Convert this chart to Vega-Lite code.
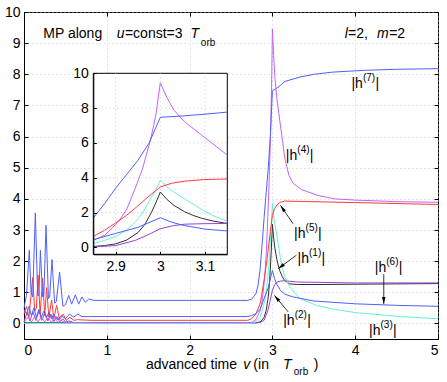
{
"$schema": "https://vega.github.io/schema/vega-lite/v6.json",
"width": 414, "height": 327,
"autosize": "none",
"padding": {"left": 24, "top": 12, "right": 9, "bottom": 43},
"background": "white",
"config": {
  "font": "Liberation Sans",
  "view": {"stroke": "black", "strokeWidth": 1},
  "axis": {"domainColor": "black", "domainWidth": 1, "tickColor": "black", "tickSize": -4, "labelPadding": 8, "labelFontSize": 14, "labelColor": "black", "labelFont": "Liberation Sans", "labelOverlap": false, "gridColor": "#bdbdbd", "gridDash": [1, 3], "gridWidth": 0.8, "titleFontSize": 14},
  "text": {"font": "Liberation Sans", "fontSize": 14, "align": "left", "baseline": "alphabetic", "color": "black"}
},
"datasets": {
  "curves": [
    {"s":"h1","x":0,"y":0.02},{"s":"h1","x":1,"y":0.02},{"s":"h1","x":2,"y":0.02},{"s":"h1","x":2.8,"y":0.02},{"s":"h1","x":2.85,"y":0.05},{"s":"h1","x":2.875,"y":0.1},{"s":"h1","x":2.9,"y":0.2},{"s":"h1","x":2.925,"y":0.42},{"s":"h1","x":2.95,"y":0.85},{"s":"h1","x":2.965,"y":1.3},{"s":"h1","x":2.98,"y":2.0},{"s":"h1","x":2.99,"y":2.55},{"s":"h1","x":3.0,"y":3.18},{"s":"h1","x":3.015,"y":2.75},{"s":"h1","x":3.03,"y":2.42},{"s":"h1","x":3.054,"y":2.05},{"s":"h1","x":3.075,"y":1.82},{"s":"h1","x":3.094,"y":1.66},{"s":"h1","x":3.12,"y":1.5},{"s":"h1","x":3.15,"y":1.37},{"s":"h1","x":3.21,"y":1.27},{"s":"h1","x":3.3,"y":1.25},{"s":"h1","x":3.6,"y":1.25},{"s":"h1","x":4,"y":1.26},{"s":"h1","x":4.5,"y":1.27},{"s":"h1","x":5,"y":1.28},
    {"s":"h2","x":0,"y":0.05},{"s":"h2","x":0.036,"y":0.35},{"s":"h2","x":0.072,"y":0.08},{"s":"h2","x":0.108,"y":0.38},{"s":"h2","x":0.144,"y":0.1},{"s":"h2","x":0.18,"y":0.4},{"s":"h2","x":0.216,"y":0.1},{"s":"h2","x":0.252,"y":0.35},{"s":"h2","x":0.288,"y":0.08},{"s":"h2","x":0.324,"y":0.3},{"s":"h2","x":0.36,"y":0.06},{"s":"h2","x":0.396,"y":0.22},{"s":"h2","x":0.432,"y":0.05},{"s":"h2","x":0.468,"y":0.15},{"s":"h2","x":0.504,"y":0.04},{"s":"h2","x":0.54,"y":0.08},{"s":"h2","x":0.6,"y":0.03},{"s":"h2","x":1,"y":0.02},{"s":"h2","x":2.8,"y":0.02},{"s":"h2","x":2.85,"y":0.03},{"s":"h2","x":2.9,"y":0.1},{"s":"h2","x":2.944,"y":0.4},{"s":"h2","x":2.975,"y":0.75},{"s":"h2","x":3.0,"y":1.07},{"s":"h2","x":3.03,"y":1.25},{"s":"h2","x":3.054,"y":1.33},{"s":"h2","x":3.1,"y":1.36},{"s":"h2","x":3.15,"y":1.37},{"s":"h2","x":3.3,"y":1.33},{"s":"h2","x":4,"y":1.3},{"s":"h2","x":5,"y":1.3},
    {"s":"h3","x":0,"y":0},{"s":"h3","x":1,"y":0},{"s":"h3","x":2,"y":0},{"s":"h3","x":2.75,"y":0.01},{"s":"h3","x":2.8,"y":0.05},{"s":"h3","x":2.85,"y":0.2},{"s":"h3","x":2.875,"y":0.4},{"s":"h3","x":2.906,"y":0.7},{"s":"h3","x":2.925,"y":1.0},{"s":"h3","x":2.944,"y":1.45},{"s":"h3","x":2.96,"y":1.95},{"s":"h3","x":2.974,"y":2.6},{"s":"h3","x":2.988,"y":3.2},{"s":"h3","x":3.0,"y":3.86},{"s":"h3","x":3.02,"y":3.35},{"s":"h3","x":3.054,"y":2.8},{"s":"h3","x":3.094,"y":2.15},{"s":"h3","x":3.12,"y":1.8},{"s":"h3","x":3.15,"y":1.5},{"s":"h3","x":3.21,"y":1.17},{"s":"h3","x":3.33,"y":0.8},{"s":"h3","x":3.53,"y":0.58},{"s":"h3","x":3.75,"y":0.45},{"s":"h3","x":4,"y":0.35},{"s":"h3","x":4.5,"y":0.23},{"s":"h3","x":5,"y":0.15},
    {"s":"h4","x":0,"y":0.05},{"s":"h4","x":0.05,"y":0.2},{"s":"h4","x":0.09,"y":0.05},{"s":"h4","x":0.13,"y":0.22},{"s":"h4","x":0.17,"y":0.05},{"s":"h4","x":0.21,"y":0.2},{"s":"h4","x":0.25,"y":0.05},{"s":"h4","x":0.29,"y":0.18},{"s":"h4","x":0.33,"y":0.04},{"s":"h4","x":0.37,"y":0.15},{"s":"h4","x":0.41,"y":0.03},{"s":"h4","x":0.45,"y":0.1},{"s":"h4","x":0.5,"y":0.02},{"s":"h4","x":0.6,"y":0.03},{"s":"h4","x":1,"y":0.02},{"s":"h4","x":2.75,"y":0.03},{"s":"h4","x":2.8,"y":0.12},{"s":"h4","x":2.85,"y":0.4},{"s":"h4","x":2.876,"y":0.7},{"s":"h4","x":2.906,"y":1.46},{"s":"h4","x":2.925,"y":2.2},{"s":"h4","x":2.944,"y":3.4},{"s":"h4","x":2.96,"y":4.5},{"s":"h4","x":2.978,"y":6.16},{"s":"h4","x":2.99,"y":7.6},{"s":"h4","x":3.0,"y":9.45},{"s":"h4","x":3.015,"y":8.6},{"s":"h4","x":3.03,"y":7.9},{"s":"h4","x":3.054,"y":7.22},{"s":"h4","x":3.094,"y":6.42},{"s":"h4","x":3.125,"y":5.8},{"s":"h4","x":3.15,"y":5.3},{"s":"h4","x":3.2,"y":4.75},{"s":"h4","x":3.25,"y":4.5},{"s":"h4","x":3.35,"y":4.3},{"s":"h4","x":3.55,"y":4.11},{"s":"h4","x":3.75,"y":4.0},{"s":"h4","x":4,"y":3.96},{"s":"h4","x":4.5,"y":3.91},{"s":"h4","x":5,"y":3.89},
    {"s":"h5","x":0,"y":0.3},{"s":"h5","x":0.03,"y":0.55},{"s":"h5","x":0.06,"y":0.2},{"s":"h5","x":0.085,"y":0.9},{"s":"h5","x":0.105,"y":1.47},{"s":"h5","x":0.13,"y":0.4},{"s":"h5","x":0.15,"y":0.5},{"s":"h5","x":0.17,"y":1.55},{"s":"h5","x":0.195,"y":0.3},{"s":"h5","x":0.225,"y":1.45},{"s":"h5","x":0.25,"y":0.25},{"s":"h5","x":0.273,"y":1.15},{"s":"h5","x":0.3,"y":0.2},{"s":"h5","x":0.334,"y":0.75},{"s":"h5","x":0.36,"y":0.15},{"s":"h5","x":0.394,"y":0.58},{"s":"h5","x":0.43,"y":0.12},{"s":"h5","x":0.474,"y":0.3},{"s":"h5","x":0.51,"y":0.1},{"s":"h5","x":0.555,"y":0.2},{"s":"h5","x":0.6,"y":0.1},{"s":"h5","x":0.65,"y":0.12},{"s":"h5","x":0.8,"y":0.1},{"s":"h5","x":2.7,"y":0.1},{"s":"h5","x":2.75,"y":0.15},{"s":"h5","x":2.8,"y":0.3},{"s":"h5","x":2.85,"y":0.62},{"s":"h5","x":2.875,"y":0.98},{"s":"h5","x":2.9,"y":1.4},{"s":"h5","x":2.925,"y":1.85},{"s":"h5","x":2.946,"y":2.3},{"s":"h5","x":2.975,"y":2.95},{"s":"h5","x":3.0,"y":3.47},{"s":"h5","x":3.025,"y":3.68},{"s":"h5","x":3.054,"y":3.8},{"s":"h5","x":3.094,"y":3.89},{"s":"h5","x":3.15,"y":3.93},{"s":"h5","x":3.3,"y":3.92},{"s":"h5","x":4,"y":3.88},{"s":"h5","x":5,"y":3.82},
    {"s":"h6","x":0,"y":0.45},{"s":"h6","x":0.03,"y":0.3},{"s":"h6","x":0.06,"y":0.55},{"s":"h6","x":0.09,"y":0.25},{"s":"h6","x":0.12,"y":0.5},{"s":"h6","x":0.15,"y":0.2},{"s":"h6","x":0.18,"y":0.45},{"s":"h6","x":0.21,"y":0.2},{"s":"h6","x":0.24,"y":0.4},{"s":"h6","x":0.27,"y":0.18},{"s":"h6","x":0.3,"y":0.35},{"s":"h6","x":0.33,"y":0.15},{"s":"h6","x":0.36,"y":0.3},{"s":"h6","x":0.4,"y":0.12},{"s":"h6","x":0.45,"y":0.25},{"s":"h6","x":0.5,"y":0.15},{"s":"h6","x":0.55,"y":0.3},{"s":"h6","x":0.6,"y":0.2},{"s":"h6","x":0.65,"y":0.3},{"s":"h6","x":0.7,"y":0.22},{"s":"h6","x":0.8,"y":0.22},{"s":"h6","x":2.7,"y":0.22},{"s":"h6","x":2.75,"y":0.25},{"s":"h6","x":2.8,"y":0.32},{"s":"h6","x":2.85,"y":0.44},{"s":"h6","x":2.9,"y":0.8},{"s":"h6","x":2.95,"y":1.15},{"s":"h6","x":3.0,"y":1.7},{"s":"h6","x":3.025,"y":1.45},{"s":"h6","x":3.05,"y":1.27},{"s":"h6","x":3.1,"y":1.05},{"s":"h6","x":3.15,"y":0.94},{"s":"h6","x":3.25,"y":0.85},{"s":"h6","x":3.5,"y":0.72},{"s":"h6","x":4,"y":0.63},{"s":"h6","x":4.5,"y":0.58},{"s":"h6","x":5,"y":0.55},
    {"s":"h7","x":0,"y":0.5},{"s":"h7","x":0.03,"y":0.9},{"s":"h7","x":0.064,"y":2.35},{"s":"h7","x":0.085,"y":1.0},{"s":"h7","x":0.105,"y":0.85},{"s":"h7","x":0.137,"y":3.55},{"s":"h7","x":0.165,"y":0.9},{"s":"h7","x":0.18,"y":0.9},{"s":"h7","x":0.198,"y":2.35},{"s":"h7","x":0.225,"y":0.85},{"s":"h7","x":0.24,"y":0.9},{"s":"h7","x":0.266,"y":3.15},{"s":"h7","x":0.295,"y":0.8},{"s":"h7","x":0.31,"y":0.85},{"s":"h7","x":0.338,"y":2.05},{"s":"h7","x":0.37,"y":0.65},{"s":"h7","x":0.39,"y":0.7},{"s":"h7","x":0.43,"y":1.65},{"s":"h7","x":0.47,"y":0.55},{"s":"h7","x":0.5,"y":0.6},{"s":"h7","x":0.54,"y":0.9},{"s":"h7","x":0.575,"y":0.62},{"s":"h7","x":0.62,"y":0.92},{"s":"h7","x":0.66,"y":0.62},{"s":"h7","x":0.7,"y":0.85},{"s":"h7","x":0.74,"y":0.68},{"s":"h7","x":0.78,"y":0.78},{"s":"h7","x":0.85,"y":0.74},{"s":"h7","x":1,"y":0.74},{"s":"h7","x":2,"y":0.74},{"s":"h7","x":2.7,"y":0.74},{"s":"h7","x":2.75,"y":0.78},{"s":"h7","x":2.8,"y":0.95},{"s":"h7","x":2.825,"y":1.2},{"s":"h7","x":2.85,"y":1.69},{"s":"h7","x":2.875,"y":2.5},{"s":"h7","x":2.9,"y":3.4},{"s":"h7","x":2.925,"y":4.2},{"s":"h7","x":2.95,"y":5.0},{"s":"h7","x":2.975,"y":6.0},{"s":"h7","x":3.0,"y":7.47},{"s":"h7","x":3.05,"y":7.55},{"s":"h7","x":3.1,"y":7.65},{"s":"h7","x":3.15,"y":7.77},{"s":"h7","x":3.33,"y":7.91},{"s":"h7","x":3.5,"y":8.0},{"s":"h7","x":3.73,"y":8.07},{"s":"h7","x":4.13,"y":8.13},{"s":"h7","x":4.5,"y":8.16},{"s":"h7","x":5,"y":8.18}
  ],
  "txt": [
    {"t":"MP along","x":0.233,"y":9.155},
    {"t":"=const=3","x":1.219,"y":9.155},
    {"t":"=2,","x":3.914,"y":9.155},
    {"t":"=2","x":4.41,"y":9.155},
    {"t":"advanced time","x":1.472,"y":-1.452},
    {"t":"(in","x":2.77,"y":-1.452},
    {"t":")","x":3.5,"y":-1.452}
  ],
  "ital": [
    {"t":"u","x":1.119,"y":9.155},
    {"t":"T","x":2.012,"y":9.155},
    {"t":"l","x":3.874,"y":9.155},
    {"t":"m","x":4.264,"y":9.155},
    {"t":"v","x":2.647,"y":-1.452},
    {"t":"T","x":3.129,"y":-1.452}
  ],
  "sub": [
    {"t":"orb","x":2.136,"y":8.91},
    {"t":"orb","x":3.258,"y":-1.667}
  ],
  "labels": [
    {"n":"(7)","x":3.955,"y":7.57},
    {"n":"(4)","x":3.162,"y":5.26},
    {"n":"(5)","x":3.262,"y":2.73},
    {"n":"(1)","x":3.303,"y":1.95},
    {"n":"(6)","x":4.236,"y":1.65},
    {"n":"(2)","x":3.13,"y":-0.05},
    {"n":"(3)","x":4.167,"y":-0.38}
  ],
  "arrows": [
    {"a":"5","x":3.25,"y":3.2,"x2":3.098,"y2":3.79},
    {"a":"1","x":3.29,"y":2.19,"x2":3.07,"y2":1.76},
    {"a":"6","x":4.345,"y":1.58,"x2":4.345,"y2":0.62},
    {"a":"2","x":3.19,"y":0.37,"x2":3.025,"y2":0.9}
  ],
  "igx": [{"g":2.9},{"g":3.0},{"g":3.1}],
  "igy": [{"g":0},{"g":2},{"g":4},{"g":6},{"g":8}]
},
"layer": [
  {"layer": [
    {"data": {"name": "curves"},
     "mark": {"type": "line", "strokeWidth": 1},
     "encoding": {
       "x": {"field": "x", "type": "quantitative", "scale": {"domain": [0, 5], "nice": false, "zero": false}, "axis": {"orient": "bottom", "title": null, "values": [0,1,2,3,4,5], "tickCount": 6, "format": "d", "grid": true, "labelOverlap": false}},
       "y": {"field": "y", "type": "quantitative", "scale": {"domain": [-0.5, 10], "nice": false, "zero": false}, "axis": {"orient": "left", "title": null, "values": [0,1,2,3,4,5,6,7,8,9,10], "tickCount": 11, "format": "d", "grid": true, "labelOverlap": false}},
       "color": {"field": "s", "type": "nominal", "legend": null, "scale": {"domain": ["h1","h2","h3","h4","h5","h6","h7"], "range": ["#2e2e2e","#9b40d8","#66f2d2","#c462ff","#ff3b3b","#4f5fff","#4f5fff"]}}
     }},
    {"data": {"name": "txt"}, "mark": {"type": "text"},
     "encoding": {"x": {"field": "x", "type": "quantitative"}, "y": {"field": "y", "type": "quantitative"}, "text": {"field": "t"}}},
    {"data": {"name": "ital"}, "mark": {"type": "text", "fontStyle": "italic"},
     "encoding": {"x": {"field": "x", "type": "quantitative"}, "y": {"field": "y", "type": "quantitative"}, "text": {"field": "t"}}},
    {"data": {"name": "sub"}, "mark": {"type": "text", "fontSize": 10},
     "encoding": {"x": {"field": "x", "type": "quantitative"}, "y": {"field": "y", "type": "quantitative"}, "text": {"field": "t"}}},
    {"data": {"name": "labels"}, "mark": {"type": "text"},
     "encoding": {"x": {"field": "x", "type": "quantitative"}, "y": {"field": "y", "type": "quantitative"}, "text": {"value": "|h"}}},
    {"data": {"name": "labels"}, "mark": {"type": "text", "fontSize": 10, "dx": 11.5, "dy": -7},
     "encoding": {"x": {"field": "x", "type": "quantitative"}, "y": {"field": "y", "type": "quantitative"}, "text": {"field": "n"}}},
    {"data": {"name": "labels"}, "mark": {"type": "text", "dx": 24},
     "encoding": {"x": {"field": "x", "type": "quantitative"}, "y": {"field": "y", "type": "quantitative"}, "text": {"value": "|"}}},
    {"data": {"name": "arrows"}, "mark": {"type": "rule", "color": "black", "strokeWidth": 0.8},
     "encoding": {"x": {"field": "x", "type": "quantitative"}, "y": {"field": "y", "type": "quantitative"}, "x2": {"field": "x2"}, "y2": {"field": "y2"}}},
    {"data": {"name": "arrows"}, "transform": [{"filter": "datum.a == '5'"}],
     "mark": {"type": "point", "shape": "M0,0L-0.5,2L0.5,2Z", "filled": true, "size": 49, "angle": 325, "color": "black", "opacity": 1},
     "encoding": {"x": {"field": "x2", "type": "quantitative"}, "y": {"field": "y2", "type": "quantitative"}}},
    {"data": {"name": "arrows"}, "transform": [{"filter": "datum.a == '1'"}],
     "mark": {"type": "point", "shape": "M0,0L-0.5,2L0.5,2Z", "filled": true, "size": 49, "angle": 234, "color": "black", "opacity": 1},
     "encoding": {"x": {"field": "x2", "type": "quantitative"}, "y": {"field": "y2", "type": "quantitative"}}},
    {"data": {"name": "arrows"}, "transform": [{"filter": "datum.a == '6'"}],
     "mark": {"type": "point", "shape": "M0,0L-0.5,2L0.5,2Z", "filled": true, "size": 49, "angle": 180, "color": "black", "opacity": 1},
     "encoding": {"x": {"field": "x2", "type": "quantitative"}, "y": {"field": "y2", "type": "quantitative"}}},
    {"data": {"name": "arrows"}, "transform": [{"filter": "datum.a == '2'"}],
     "mark": {"type": "point", "shape": "M0,0L-0.5,2L0.5,2Z", "filled": true, "size": 49, "angle": 320, "color": "black", "opacity": 1},
     "encoding": {"x": {"field": "x2", "type": "quantitative"}, "y": {"field": "y2", "type": "quantitative"}}}
  ]},
  {"layer": [
    {"data": {"values": [{}]},
     "mark": {"type": "rect", "fill": "white", "stroke": "black", "strokeWidth": 1},
     "encoding": {
       "x": {"datum": 2.85, "type": "quantitative", "scale": {"domain": [2.85, 3.15], "range": [69.3, 203.3], "nice": false, "zero": false}, "axis": {"orient": "bottom", "offset": -84.7, "values": [2.9, 3, 3.1], "format": "~g", "grid": false, "title": null, "zindex": 1, "tickSize": -3}},
       "x2": {"datum": 3.15},
       "y": {"datum": -0.4, "type": "quantitative", "scale": {"domain": [-0.4, 10], "range": [242.3, 61.3], "nice": false, "zero": false}, "axis": {"orient": "left", "offset": -69.3, "values": [0,2,4,6,8,10], "format": "d", "grid": false, "title": null, "zindex": 1, "tickSize": -3}},
       "y2": {"datum": 10}
     }},
    {"data": {"name": "igx"}, "mark": {"type": "rule", "color": "#bdbdbd", "strokeWidth": 0.8, "strokeDash": [1, 3]},
     "encoding": {"x": {"field": "g", "type": "quantitative"}, "y": {"datum": -0.4, "type": "quantitative"}, "y2": {"datum": 10}}},
    {"data": {"name": "igy"}, "mark": {"type": "rule", "color": "#bdbdbd", "strokeWidth": 0.8, "strokeDash": [1, 3]},
     "encoding": {"y": {"field": "g", "type": "quantitative"}, "x": {"datum": 2.85, "type": "quantitative"}, "x2": {"datum": 3.15}}},
    {"data": {"name": "curves"}, "transform": [{"filter": "datum.x >= 2.85 && datum.x <= 3.15"}],
     "mark": {"type": "line", "strokeWidth": 1},
     "encoding": {
       "x": {"field": "x", "type": "quantitative"},
       "y": {"field": "y", "type": "quantitative"},
       "color": {"field": "s", "type": "nominal", "legend": null}
     }}
  ]},
  {"data": {"values": [{}]},
   "mark": {"type": "point", "opacity": 0},
   "encoding": {
     "x": {"datum": 0, "type": "quantitative", "scale": {"domain": [0, 5], "nice": false, "zero": false}, "axis": {"orient": "top", "title": null, "values": [0,1,2,3,4,5], "labels": false, "domain": false, "grid": false, "tickSize": -4}},
     "y": {"datum": 0, "type": "quantitative", "scale": {"domain": [-0.5, 10], "nice": false, "zero": false}, "axis": {"orient": "right", "title": null, "values": [0,1,2,3,4,5,6,7,8,9,10], "labels": false, "domain": false, "grid": false, "tickSize": -4}}
   }}
],
"resolve": {"scale": {"x": "independent", "y": "independent"}}
}
